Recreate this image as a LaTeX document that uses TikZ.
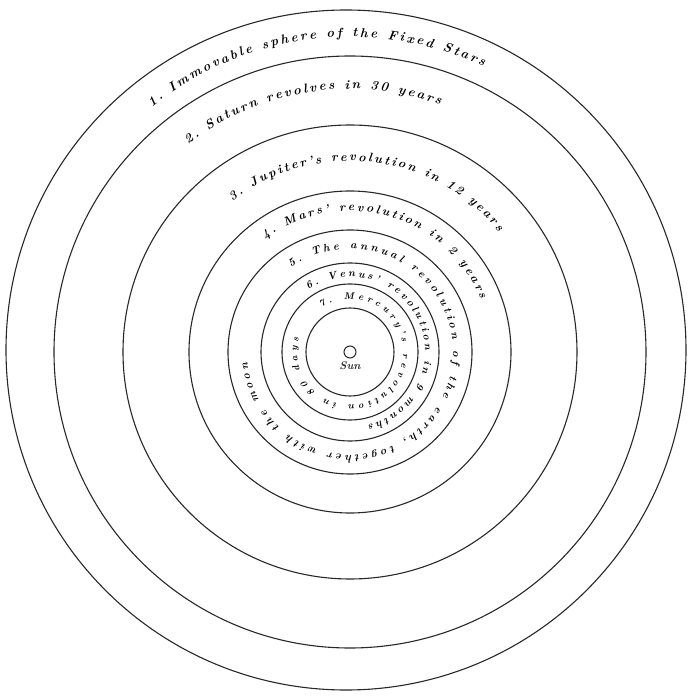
\documentclass[tikz,border=0pt]{standalone}
\usepackage{tikz}
\usetikzlibrary{positioning,decorations.text}
\definecolor{inkgray}{RGB}{40,40,40}
\newcommand{\ringfont}[1]{\fontsize{#1}{#1}\selectfont\bfseries\itshape}

\begin{document}
\begin{tikzpicture}[x=1pt, y=1pt,
    orbit/.style={inkgray, line width=1.1pt},
    ringlabel/.style={decorate, decoration={text along path, text align=fit to path, text={#1}}},
    every node/.style={inkgray}]
    \useasboundingbox (-350,-346) rectangle (340,352);
    % the spheres, sun outwards
    \foreach \r in {44,68,89,122,161,227,296}{
      \draw[orbit] (0,0) circle (\r);}
    \draw[orbit] (-4,2) circle (340);
    % labels running clockwise inside each band
    \path[ringlabel={|\ringfont{13}|1. Immovable sphere of the Fixed Stars}]
      (129:315) arc[start angle=129, end angle=65, radius=315];
    \path[ringlabel={|\ringfont{13}|2. Saturn revolves in 30 years}]
      (128:263) arc[start angle=128, end angle=70, radius=263];
    \path[ringlabel={|\ringfont{12.5}|3. Jupiter's revolution in 12 years}]
      (128:191) arc[start angle=128, end angle=39, radius=191];
    \path[ringlabel={|\ringfont{12}|4. Mars' revolution in 2 years}]
      (127:141) arc[start angle=127, end angle=22, radius=141];
    \path[ringlabel={|\ringfont{11}|5. The annual revolution of the earth, together with the moon}]
      (125:103) arc[start angle=125, end angle=-174, radius=103];
    \path[ringlabel={|\ringfont{10.5}|6. Venus' revolution in 9 months}]
      (124:75) arc[start angle=124, end angle=-76, radius=75];
    \path[ringlabel={|\ringfont{9.5}|7. Mercury's revolution in 80 days}]
      (123:53) arc[start angle=123, end angle=-195, radius=53];
    % the sun
    \node[draw, circle, line width=1pt, minimum size=12pt, inner sep=0pt] (sun) at (0,0) {};
    \node[below=0pt of sun, font=\ringfont{11}] (sunlabel) {Sun};
\end{tikzpicture}
\end{document}
